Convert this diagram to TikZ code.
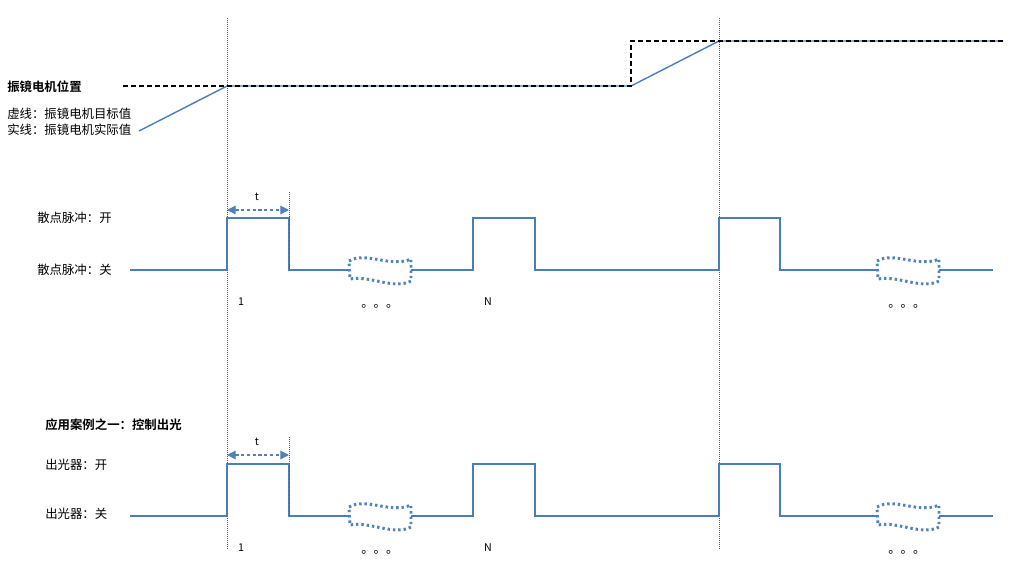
\documentclass[tikz,border=0pt]{standalone}
\usepackage{fontspec}
\setmainfont{Noto Sans CJK SC}[BoldFont={Noto Sans CJK SC Bold}]
\usetikzlibrary{arrows.meta, positioning}
\definecolor{lineblue}{HTML}{4A7EBB}
\definecolor{arrowblue}{HTML}{4F81BD}
\definecolor{guideblue}{HTML}{385D8A}
\newcommand{\gapmark}[2]{%
  \draw[breakmark, shift={(#1,#2)}] (0,-9) .. controls (17,-19) and (41,-2) .. (62,-11)
    -- (62,11) .. controls (45,20) and (20,5) .. (1,9) -- cycle;}
\tikzset{
	signal/.style={
			draw=lineblue,
			line width=1.05pt
		},
	target/.style={
			draw=black,
			line width=0.9pt,
			dash pattern=on 3.5pt off 2.5pt
		},
	guide/.style={
			draw=guideblue,
			line width=0.75pt,
			dash pattern=on 0.75pt off 0.75pt
		},
	breakmark/.style={
			draw=arrowblue,
			line width=2.2pt,
			dash pattern=on 1.8pt off 2.2pt
		},
	period/.style={
			draw=arrowblue,
			line width=0.9pt,
			dash pattern=on 2.5pt off 1.8pt,
			{Triangle[width=6.5pt,length=6.5pt]}-{Triangle[width=6.5pt,length=6.5pt]}
		},
	labeltext/.style={
			anchor=west,
			inner sep=0pt,
			font=\fontsize{9.3pt}{11pt}\selectfont
		},
	ticktext/.style={
			inner sep=0pt,
			font=\fontsize{8pt}{9pt}\selectfont
		}
}

\begin{document}
\begin{tikzpicture}[x=0.75pt, y=-0.75pt]
  \useasboundingbox (0,0) rectangle (1019,578);

  % guides
  \coordinate (g1top) at (227,18);
  \coordinate (g1bot) at (227,550);
  \coordinate (g2top) at (719,18);
  \coordinate (g2bot) at (719,550);
  \draw[guide] (g1top) -- (g1bot);
  \draw[guide] (g2top) -- (g2bot);

  % motor position
  \node[labeltext, font=\fontsize{9.3pt}{11pt}\selectfont\bfseries] (motor) at (7,87) {振镜电机位置};
  \node[labeltext] (dashnote) at (7,114) {虚线：振镜电机目标值};
  \node[labeltext] (solidnote) at (7,130) {实线：振镜电机实际值};
  \draw[signal] (139,131) -- (227,86) -- (631,86) -- (719,41) -- (1003,41);
  \draw[target] (123,86) -- (631,86) -- (631,41) -- (1003,41);

  % scatter pulses
  \node[labeltext] (pulseon) at (37,218) {散点脉冲：开};
  \node[labeltext] (pulseoff) at (37,270) {散点脉冲：关};
  \draw[signal] (130,270) -- (227,270) -- (227,218) -- (289,218) -- (289,270) -- (349,270);
  \draw[signal] (411,270) -- (473,270) -- (473,218) -- (535,218) -- (535,270)
    -- (719,270) -- (719,218) -- (780,218) -- (780,270) -- (877,270);
  \draw[signal] (939,270) -- (993,270);
  \gapmark{349}{270}
  \gapmark{877}{270}
  \coordinate (t1l) at (227,210);
  \coordinate (t1r) at (289,210);
  \draw[guide] (289,192) -- (289,270);
  \draw[period] (t1l) -- (t1r);
  \node[ticktext] (t1) at (257,197) {t};
  \node[ticktext] (first1) at (241,302) {1};
  \node[ticktext] (last1) at (488,302) {N};
  \node[labeltext, anchor=base west] (dots1a) at (361,307) {。。。};
  \node[labeltext, anchor=base west] (dots1b) at (888,307) {。。。};

  % laser output
  \node[labeltext, font=\fontsize{9.3pt}{11pt}\selectfont\bfseries] (usecase) at (45,425) {应用案例之一：控制出光};
  \node[labeltext] (laseron) at (45,465) {出光器：开};
  \node[labeltext] (laseroff) at (45,514) {出光器：关};
  \draw[signal] (130,516) -- (227,516) -- (227,464) -- (289,464) -- (289,516) -- (349,516);
  \draw[signal] (411,516) -- (473,516) -- (473,464) -- (535,464) -- (535,516)
    -- (719,516) -- (719,464) -- (780,464) -- (780,516) -- (877,516);
  \draw[signal] (939,516) -- (993,516);
  \gapmark{349}{516}
  \gapmark{877}{516}
  \coordinate (t2l) at (227,455);
  \coordinate (t2r) at (289,455);
  \draw[guide] (289,437) -- (289,516);
  \draw[period] (t2l) -- (t2r);
  \node[ticktext] (t2) at (257,442) {t};
  \node[ticktext] (first2) at (241,548) {1};
  \node[ticktext] (last2) at (488,548) {N};
  \node[labeltext, anchor=base west] (dots2a) at (361,553) {。。。};
  \node[labeltext, anchor=base west] (dots2b) at (888,553) {。。。};

\end{tikzpicture}
\end{document}
